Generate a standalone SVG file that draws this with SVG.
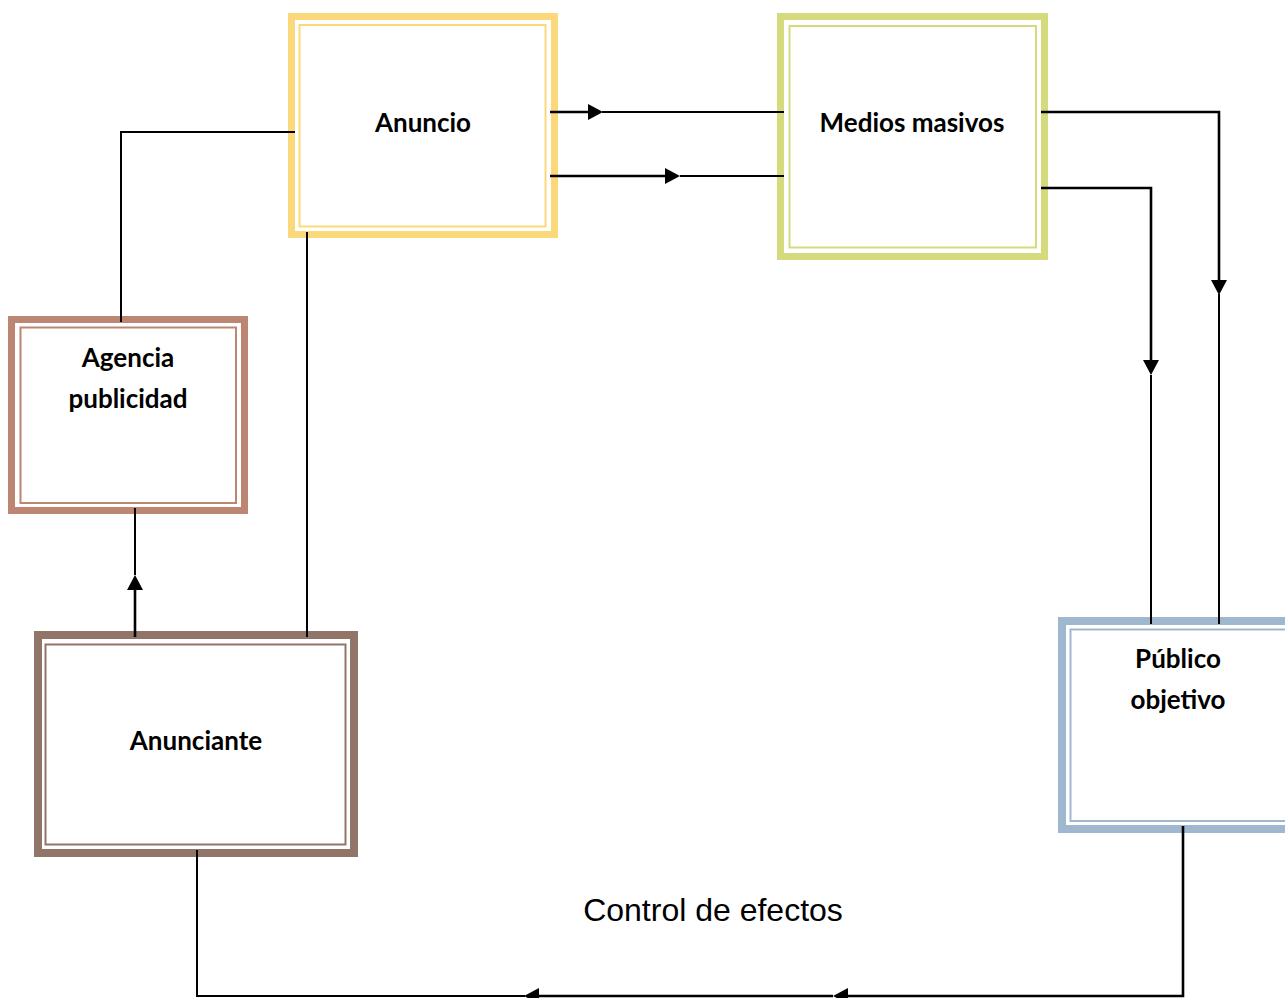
<svg xmlns="http://www.w3.org/2000/svg" width="1285" height="998" viewBox="0 0 1285 998">
<style>
.bg{fill:#ffffff}
.outer{fill:#ffffff}
.inner{fill:none;stroke-width:2}
.lbl{font-family:Lato,"Liberation Sans",sans-serif;font-weight:bold;font-size:26px;fill:#000;text-anchor:middle}
.cap{font-family:"Liberation Sans",Arial,sans-serif;font-size:32px;fill:#000;text-anchor:middle}
.ln{fill:none;stroke:#000;stroke-width:2}
.lnb{fill:none;stroke:#000;stroke-width:2.6}
</style>
<defs>
<marker id="ah" markerUnits="userSpaceOnUse" markerWidth="15" markerHeight="16" viewBox="0 0 15 16" refX="0" refY="8" orient="auto">
<path d="M0,0 L15,8 L0,16 z" fill="#000"/>
</marker>
</defs>
<rect class="bg" x="0" y="0" width="1285" height="998"/>
<g id="anuncio">
<rect class="outer" x="291.5" y="16.5" width="263" height="218" stroke="#FBD97A" stroke-width="7"/>
<rect class="inner" x="299.5" y="25" width="246" height="201.5" stroke="#FBD97A"/>
<text class="lbl" x="423" y="132">Anuncio</text>
</g>
<g id="medios">
<rect class="outer" x="780.5" y="16.5" width="264" height="240" stroke="#D5DB7C" stroke-width="7"/>
<rect class="inner" x="789.5" y="26" width="246.5" height="221.5" stroke="#D5DB7C"/>
<text class="lbl" x="912" y="132">Medios masivos</text>
</g>
<g id="agencia">
<rect class="outer" x="11.5" y="319.5" width="233" height="191" stroke="#BC8672" stroke-width="7"/>
<rect class="inner" x="20.5" y="327.5" width="215.5" height="175.5" stroke="#BC8672"/>
<text class="lbl" x="128" y="366.5">Agencia</text>
<text class="lbl" x="128" y="407.5">publicidad</text>
</g>
<g id="anunciante">
<rect class="outer" x="38" y="635" width="316" height="218" stroke="#927569" stroke-width="8"/>
<rect class="inner" x="45.5" y="644.5" width="300" height="200" stroke="#927569"/>
<text class="lbl" x="196" y="750">Anunciante</text>
</g>
<g id="publico">
<rect class="outer" x="1062" y="621" width="260" height="208" stroke="#9FB7CF" stroke-width="8"/>
<rect class="inner" x="1070.5" y="629.5" width="250" height="191.5" stroke="#9FB7CF"/>
<text class="lbl" x="1178" y="668">Público</text>
<text class="lbl" x="1178" y="709">objetivo</text>
</g>
<g id="caption">
<text class="cap" x="713" y="921">Control de efectos</text>
</g>
<g id="connectors">
<path class="ln" d="M295,132 H121 V322"/>
<path class="ln" d="M307,232 V637"/>
<path class="ln" d="M135,508 V575"/>
<path class="lnb" d="M135,637 V590" marker-end="url(#ah)"/>
<path class="lnb" d="M550,112 H588" marker-end="url(#ah)"/>
<path class="ln" d="M602,112 H784"/>
<path class="lnb" d="M550,176 H665" marker-end="url(#ah)"/>
<path class="ln" d="M680,176 H784"/>
<path class="lnb" d="M1041,112 H1219 V280" marker-end="url(#ah)"/>
<path class="ln" d="M1219,294 V624"/>
<path class="lnb" d="M1041,188 H1151 V360" marker-end="url(#ah)"/>
<path class="ln" d="M1151,375 V624"/>
<path class="lnb" d="M1183,826 V996 H848" marker-end="url(#ah)"/>
<path class="lnb" d="M833,996 H539" marker-end="url(#ah)"/>
<path class="ln" d="M525,996 H197 V850"/>
</g>
</svg>
